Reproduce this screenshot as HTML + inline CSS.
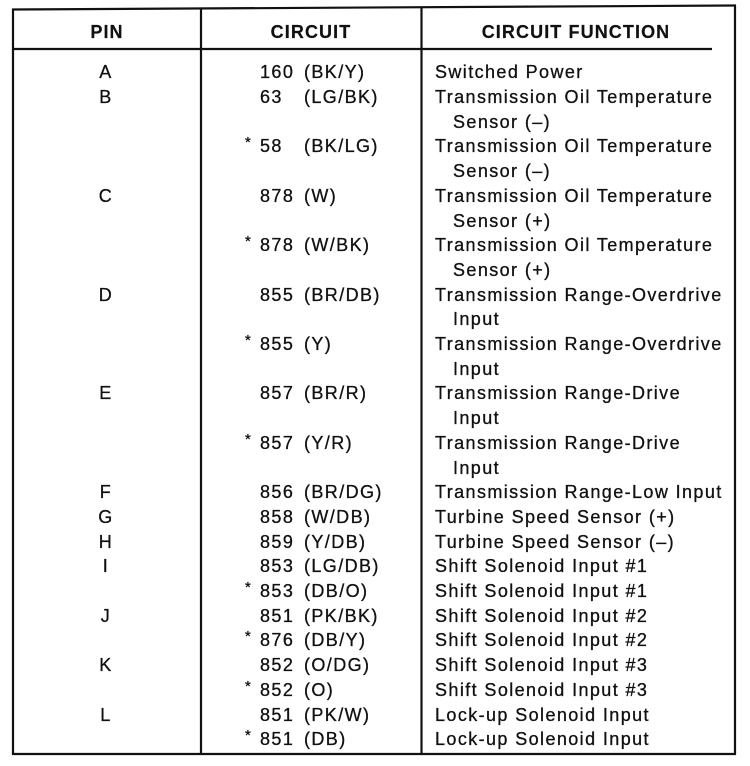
<!DOCTYPE html>
<html>
<head>
<meta charset="utf-8">
<style>
  html, body { margin:0; padding:0; background:#fff; }
  body { width:750px; height:766px; position:relative; overflow:hidden;
         font-family:"Liberation Sans", Arial, Helvetica, sans-serif; color:#111; }
  svg { position:absolute; left:0; top:0; }
  .l { position:absolute; left:0; width:750px; height:24.7px; line-height:24.7px;
       font-size:18px; letter-spacing:1.4px; white-space:nowrap; -webkit-text-stroke:0.3px #111; }
  .l span { position:absolute; top:0; }
  .p { left:86px; width:40px; text-align:center; }
  .s { left:245px; font-size:15px; top:-3px !important; letter-spacing:0; }
  .n { left:260px; }
  .c { left:304px; }
  .f { left:435px; }
  .g { left:453px; }
  .h { position:absolute; top:20px; height:24.7px; line-height:24.7px; font-size:18px;
       font-weight:bold; letter-spacing:1.1px; text-align:center; white-space:nowrap; -webkit-text-stroke:0.2px #111; }
</style>
</head>
<body>
<svg width="750" height="766">
  <g stroke="#111" stroke-width="2.2" fill="none">
    <line x1="12" y1="9.5" x2="736" y2="5.5"/>
    <line x1="13" y1="8.5" x2="13" y2="755"/>
    <line x1="735" y1="5" x2="735" y2="755"/>
    <line x1="12" y1="754" x2="736" y2="754"/>
    <line x1="12" y1="49" x2="712" y2="49"/>
    <line x1="201" y1="8" x2="201" y2="754"/>
    <line x1="421.5" y1="7" x2="421.5" y2="754"/>
  </g>
</svg>

<div class="h" style="left:67px;width:80px;">PIN</div>
<div class="h" style="left:251px;width:120px;">CIRCUIT</div>
<div class="h" style="left:466px;width:220px;">CIRCUIT FUNCTION</div>

<div class="l" style="top:60.3px"><span class="p">A</span><span class="n">160</span><span class="c">(BK/Y)</span><span class="f">Switched Power</span></div>
<div class="l" style="top:85.0px"><span class="p">B</span><span class="n">63</span><span class="c">(LG/BK)</span><span class="f">Transmission Oil Temperature</span></div>
<div class="l" style="top:109.7px"><span class="g">Sensor (–)</span></div>
<div class="l" style="top:134.4px"><span class="s">*</span><span class="n">58</span><span class="c">(BK/LG)</span><span class="f">Transmission Oil Temperature</span></div>
<div class="l" style="top:159.1px"><span class="g">Sensor (–)</span></div>
<div class="l" style="top:183.8px"><span class="p">C</span><span class="n">878</span><span class="c">(W)</span><span class="f">Transmission Oil Temperature</span></div>
<div class="l" style="top:208.5px"><span class="g">Sensor (+)</span></div>
<div class="l" style="top:233.2px"><span class="s">*</span><span class="n">878</span><span class="c">(W/BK)</span><span class="f">Transmission Oil Temperature</span></div>
<div class="l" style="top:257.9px"><span class="g">Sensor (+)</span></div>
<div class="l" style="top:282.6px"><span class="p">D</span><span class="n">855</span><span class="c">(BR/DB)</span><span class="f">Transmission Range-Overdrive</span></div>
<div class="l" style="top:307.3px"><span class="g">Input</span></div>
<div class="l" style="top:332.0px"><span class="s">*</span><span class="n">855</span><span class="c">(Y)</span><span class="f">Transmission Range-Overdrive</span></div>
<div class="l" style="top:356.7px"><span class="g">Input</span></div>
<div class="l" style="top:381.4px"><span class="p">E</span><span class="n">857</span><span class="c">(BR/R)</span><span class="f">Transmission Range-Drive</span></div>
<div class="l" style="top:406.1px"><span class="g">Input</span></div>
<div class="l" style="top:430.8px"><span class="s">*</span><span class="n">857</span><span class="c">(Y/R)</span><span class="f">Transmission Range-Drive</span></div>
<div class="l" style="top:455.5px"><span class="g">Input</span></div>
<div class="l" style="top:480.2px"><span class="p">F</span><span class="n">856</span><span class="c">(BR/DG)</span><span class="f">Transmission Range-Low Input</span></div>
<div class="l" style="top:504.9px"><span class="p">G</span><span class="n">858</span><span class="c">(W/DB)</span><span class="f">Turbine Speed Sensor (+)</span></div>
<div class="l" style="top:529.6px"><span class="p">H</span><span class="n">859</span><span class="c">(Y/DB)</span><span class="f">Turbine Speed Sensor (–)</span></div>
<div class="l" style="top:554.3px"><span class="p">I</span><span class="n">853</span><span class="c">(LG/DB)</span><span class="f">Shift Solenoid Input #1</span></div>
<div class="l" style="top:579.0px"><span class="s">*</span><span class="n">853</span><span class="c">(DB/O)</span><span class="f">Shift Solenoid Input #1</span></div>
<div class="l" style="top:603.7px"><span class="p">J</span><span class="n">851</span><span class="c">(PK/BK)</span><span class="f">Shift Solenoid Input #2</span></div>
<div class="l" style="top:628.4px"><span class="s">*</span><span class="n">876</span><span class="c">(DB/Y)</span><span class="f">Shift Solenoid Input #2</span></div>
<div class="l" style="top:653.1px"><span class="p">K</span><span class="n">852</span><span class="c">(O/DG)</span><span class="f">Shift Solenoid Input #3</span></div>
<div class="l" style="top:677.8px"><span class="s">*</span><span class="n">852</span><span class="c">(O)</span><span class="f">Shift Solenoid Input #3</span></div>
<div class="l" style="top:702.5px"><span class="p">L</span><span class="n">851</span><span class="c">(PK/W)</span><span class="f">Lock-up Solenoid Input</span></div>
<div class="l" style="top:727.2px"><span class="s">*</span><span class="n">851</span><span class="c">(DB)</span><span class="f">Lock-up Solenoid Input</span></div>
</body>
</html>
